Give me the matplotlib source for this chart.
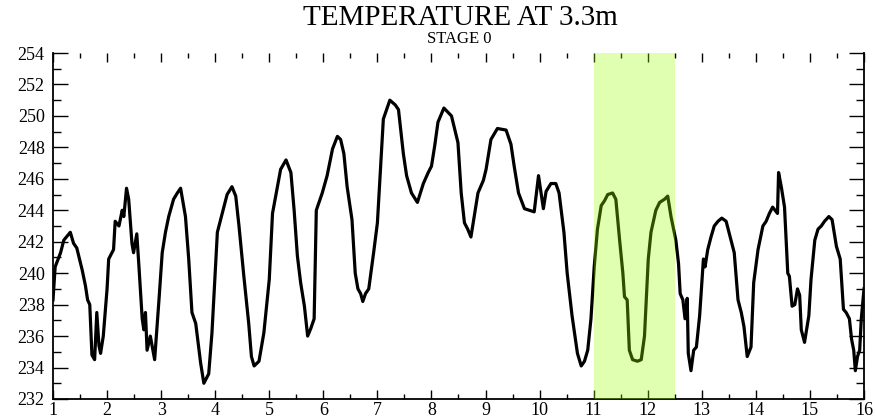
import matplotlib
matplotlib.use("Agg")
import matplotlib.pyplot as plt
from matplotlib.ticker import MultipleLocator

# Temperature record at 3.3 m depth (time axis in days)
days = [
    1.00, 1.04, 1.14, 1.20, 1.32, 1.38, 1.44, 1.54, 1.60, 1.64, 1.68, 1.72,
    1.77, 1.81, 1.85, 1.88, 1.93, 2.00, 2.03, 2.12, 2.15, 2.22, 2.28, 2.31,
    2.36, 2.40, 2.46, 2.49, 2.55, 2.59, 2.65, 2.68, 2.71, 2.74, 2.80, 2.88,
    2.96, 3.02, 3.08, 3.14, 3.23, 3.30, 3.36, 3.45, 3.51, 3.57, 3.64, 3.73,
    3.79, 3.88, 3.94, 4.04, 4.13, 4.22, 4.31, 4.38, 4.44, 4.53, 4.62, 4.67,
    4.72, 4.81, 4.90, 5.00, 5.06, 5.15, 5.21, 5.31, 5.40, 5.46, 5.52, 5.58,
    5.65, 5.71, 5.77, 5.83, 5.87, 5.98, 6.07, 6.17, 6.26, 6.32, 6.38, 6.44,
    6.53, 6.59, 6.64, 6.69, 6.73, 6.78, 6.84, 6.93, 7.00, 7.05, 7.11, 7.17,
    7.23, 7.33, 7.39, 7.48, 7.54, 7.63, 7.74, 7.85, 7.94, 8.00, 8.06, 8.12,
    8.23, 8.37, 8.49, 8.55, 8.61, 8.67, 8.73, 8.80, 8.86, 8.96, 9.01, 9.10,
    9.22, 9.38, 9.47, 9.53, 9.61, 9.72, 9.81, 9.90, 9.98, 10.07, 10.12, 10.21,
    10.30, 10.36, 10.45, 10.51, 10.60, 10.70, 10.77, 10.83, 10.89, 10.95,
    11.01, 11.07, 11.14, 11.20, 11.26, 11.35, 11.41, 11.48, 11.54, 11.57,
    11.62, 11.66, 11.72, 11.81, 11.88, 11.94, 12.01, 12.06, 12.15, 12.22,
    12.31, 12.37, 12.43, 12.52, 12.57, 12.60, 12.65, 12.69, 12.73, 12.75,
    12.80, 12.85, 12.90, 12.96, 13.03, 13.06, 13.11, 13.17, 13.23, 13.30,
    13.37, 13.45, 13.54, 13.60, 13.67, 13.73, 13.78, 13.84, 13.91, 13.96,
    14.04, 14.13, 14.19, 14.25, 14.31, 14.40, 14.42, 14.47, 14.53, 14.59,
    14.62, 14.67, 14.72, 14.77, 14.81, 14.84, 14.90, 14.98, 15.02, 15.09,
    15.15, 15.21, 15.27, 15.35, 15.41, 15.49, 15.56, 15.62, 15.67, 15.73,
    15.77, 15.81, 15.84, 15.88, 15.92, 15.95, 16.00,
]
temperature = [
    238.3, 240.4, 241.3, 242.1, 242.6, 241.9, 241.6, 240.2, 239.2, 238.3, 238.0, 234.8,
    234.5, 237.5, 235.4, 234.9, 236.0, 239.0, 240.9, 241.5, 243.3, 243.0, 244.0, 243.6,
    245.4, 244.7, 241.9, 241.3, 242.5, 240.4, 237.1, 236.4, 237.5, 235.1, 236.0, 234.5,
    238.3, 241.3, 242.6, 243.6, 244.7, 245.1, 245.4, 243.6, 240.9, 237.5, 236.8, 234.3,
    233.0, 233.6, 236.2, 242.6, 243.8, 245.0, 245.5, 244.9, 243.0, 239.8, 236.8, 234.7,
    234.1, 234.4, 236.2, 239.6, 243.8, 245.5, 246.6, 247.2, 246.4, 244.0, 241.1, 239.4,
    237.9, 236.0, 236.5, 237.1, 244.0, 245.1, 246.2, 247.9, 248.7, 248.5, 247.6, 245.5,
    243.4, 240.0, 239.0, 238.7, 238.2, 238.7, 239.0, 241.3, 243.2, 246.2, 249.8, 250.4,
    251.0, 250.7, 250.4, 247.6, 246.2, 245.1, 244.5, 245.7, 246.4, 246.8, 248.1, 249.6,
    250.5, 250.0, 248.3, 245.1, 243.2, 242.8, 242.3, 243.8, 245.1, 245.9, 246.6, 248.5,
    249.2, 249.1, 248.2, 246.8, 245.1, 244.1, 244.0, 243.9, 246.2, 244.1, 245.2, 245.7,
    245.7, 245.1, 242.6, 240.0, 237.3, 234.9, 234.1, 234.4, 235.1, 237.1,
    240.4, 242.8, 244.3, 244.6, 245.0, 245.1, 244.7, 242.1, 240.0, 238.5,
    238.3, 235.1, 234.5, 234.4, 234.5, 236.0, 240.9, 242.6, 244.0, 244.5,
    244.7, 244.9, 243.6, 242.1, 240.6, 238.7, 238.3, 237.1, 238.4, 234.9,
    233.8, 235.1, 235.3, 237.3, 240.9, 240.4, 241.5, 242.3, 243.0, 243.3,
    243.5, 243.3, 242.1, 241.3, 238.3, 237.5, 236.6, 234.7, 235.3, 239.4,
    241.5, 243.0, 243.3, 243.8, 244.2, 243.8, 246.4, 245.5, 244.2, 240.0,
    239.8, 237.9, 238.0, 239.0, 238.6, 236.4, 235.6, 237.3, 239.6, 242.1,
    242.8, 243.0, 243.3, 243.6, 243.4, 241.7, 240.9, 237.7, 237.5, 237.1,
    235.8, 235.1, 233.8, 234.7, 235.1, 237.1, 239.0,
]

stage_window = (11.0, 12.5)
x_range = (1, 16)
y_range = (232, 254)

plt.rcParams["font.family"] = ["Liberation Serif", "DejaVu Serif"]

fig = plt.figure(figsize=(8.76, 4.18), dpi=100)
ax = fig.add_axes([0.0605, 0.0455, 0.9258, 0.8277])

ax.plot(days, temperature, color="black", linewidth=2.3, zorder=2)
ax.axvspan(*stage_window, color=(155 / 255, 1.0, 0.0), alpha=0.31,
           linewidth=0, zorder=3)

ax.set_xlim(*x_range)
ax.set_ylim(*y_range)

ax.xaxis.set_major_locator(MultipleLocator(1))
ax.xaxis.set_minor_locator(MultipleLocator(0.5))
ax.yaxis.set_major_locator(MultipleLocator(2))
ax.yaxis.set_minor_locator(MultipleLocator(1))

ax.tick_params(axis="both", which="both", direction="in",
               top=True, right=True, color="black", width=1.0)
ax.tick_params(axis="x", which="major", length=6.5, pad=2, labelsize=13)
ax.tick_params(axis="x", which="minor", length=3.5)
ax.tick_params(axis="y", which="major", length=11, pad=6, labelsize=13)
ax.tick_params(axis="y", which="minor", length=5.5)

ax.spines["top"].set_visible(False)
for side in ("left", "right", "bottom"):
    ax.spines[side].set_linewidth(1.3)

fig.text(0.525, 0.940, "TEMPERATURE AT 3.3m", ha="center", va="baseline",
         fontsize=21)
fig.text(0.524, 0.897, "STAGE 0", ha="center", va="baseline", fontsize=12)

fig.savefig("out.png", dpi=100)
